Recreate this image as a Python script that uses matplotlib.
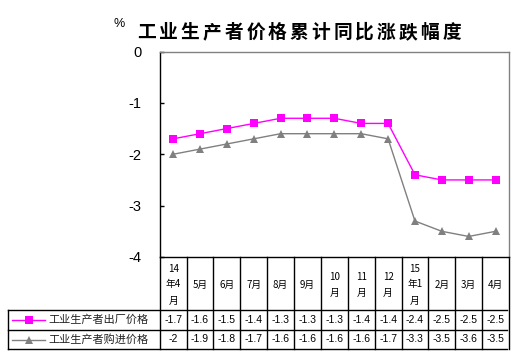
import matplotlib
matplotlib.use("Agg")
import matplotlib.pyplot as plt
import matplotlib.transforms as mtransforms
from matplotlib.lines import Line2D

categories = ["14\n年4\n月", "5月", "6月", "7月", "8月", "9月", "10\n月", "11\n月",
              "12\n月", "15\n年1\n月", "2月", "3月", "4月"]
series_names = ["工业生产者出厂价格", "工业生产者购进价格"]
ppi_out = [-1.7, -1.6, -1.5, -1.4, -1.3, -1.3, -1.3, -1.4, -1.4, -2.4, -2.5, -2.5, -2.5]
ppi_in = [-2.0, -1.9, -1.8, -1.7, -1.6, -1.6, -1.6, -1.6, -1.7, -3.3, -3.5, -3.6, -3.5]
yticks = [0, -1, -2, -3, -4]
title = "工业生产者价格累计同比涨跌幅度"
unit = "%"

W, H = 516, 357
fig = plt.figure(figsize=(W / 100, H / 100), dpi=100)
fig.patch.set_facecolor("white")

# axes placement in pixels
ax_l, ax_r, ax_t, ax_b = 159.7, 509, 51.5, 257
ax = fig.add_axes([ax_l / W, 1 - ax_b / H, (ax_r - ax_l) / W, (ax_b - ax_t) / H])

n = len(categories)
xs = [i + 0.5 for i in range(n)]
colors = ["#FF00FF", "#808080"]
markers = ["s", "^"]
for vals, c, m in zip([ppi_out, ppi_in], colors, markers):
    ax.plot(xs, vals, color=c, lw=1.0, marker=m, markersize=6, markeredgewidth=0,
            markerfacecolor=c, clip_on=False, zorder=3)

ax.set_xlim(0, n)
ax.set_ylim(-4, 0)
ax.set_xticks([])
ax.set_yticks(yticks)
ax.set_yticklabels([str(v) for v in yticks], fontfamily="Liberation Sans", fontsize=10.5)
ax.tick_params(axis="y", direction="in", length=3, width=1, color="black", pad=13)
for s in ["top", "right"]:
    ax.spines[s].set_color("#808080")
    ax.spines[s].set_linewidth(1)
for s in ["left", "bottom"]:
    ax.spines[s].set_color("black")
    ax.spines[s].set_linewidth(1)

# pixel-from-top transform
pix = mtransforms.Affine2D().scale(1 / W, -1 / H).translate(0, 1) + fig.transFigure
data_x_pix_y = mtransforms.blended_transform_factory(ax.transData, pix)

# table geometry (pixels from top)
t_top, r1, r2, t_bot = 257, 310, 330, 349
leg_left = 8

lw = 1.0
# vertical column lines
for i in range(n + 1):
    ax.add_line(Line2D([i, i], [t_top, t_bot], transform=data_x_pix_y, color="black",
                       lw=lw, clip_on=False))
# horizontal lines
right_px = ax_r - 2
for y in [r1, r2, t_bot]:
    fig.add_artist(Line2D([leg_left, right_px], [y, y], transform=pix, color="black", lw=lw))
fig.add_artist(Line2D([leg_left, leg_left], [r1, t_bot], transform=pix, color="black", lw=lw))

# header text
cjk = ["Noto Sans CJK SC", "Liberation Sans"]
for x, lab in zip(xs, categories):
    ax.text(x, (t_top + r1) / 2 + 1, lab, transform=data_x_pix_y, ha="center", va="center",
            fontsize=7, family=cjk, linespacing=1.75, color="black")

# values
for vals, yrow in zip([ppi_out, ppi_in], [(r1 + r2) / 2, (r2 + t_bot) / 2]):
    for x, v in zip(xs, vals):
        ax.text(x, yrow, f"{v:g}", transform=data_x_pix_y, ha="center", va="center",
                fontsize=7.5, family="Liberation Sans", color="black")

# legend cells
for name, c, m, yrow in zip(series_names, colors, markers, [(r1 + r2) / 2, (r2 + t_bot) / 2]):
    fig.add_artist(Line2D([12, 45], [yrow, yrow], transform=pix, color=c, lw=1.0))
    fig.add_artist(Line2D([28.5], [yrow], transform=pix, color=c, marker=m, markersize=6,
                          markeredgewidth=0, markerfacecolor=c))
    fig.text(48, yrow, name, transform=pix, ha="left", va="center", fontsize=8,
             family=cjk, color="#222222")

# title, individually spaced characters
pitch = 21.8
x0 = 138 + 8.5
for k, ch in enumerate(title):
    fig.text(x0 + k * pitch, 32.5, ch, transform=pix, ha="center", va="center",
             fontsize=13.5, family=cjk, fontweight="bold", color="black")
fig.text(119, 24, unit, transform=pix, ha="center", va="center", fontsize=9,
         family="Liberation Sans", color="black")

fig.savefig("out.png", dpi=100, facecolor="white")
